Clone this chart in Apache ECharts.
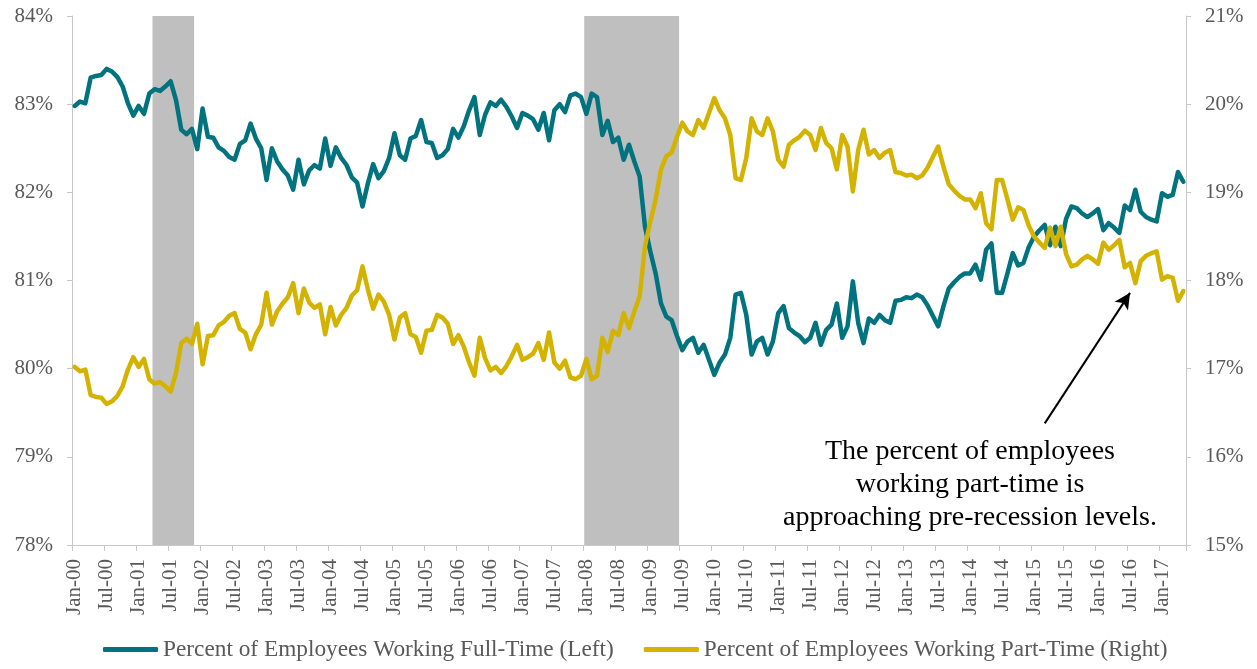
<!DOCTYPE html>
<html>
<head>
<meta charset="utf-8">
<script src="https://cdn.jsdelivr.net/npm/echarts@6/dist/echarts.min.js"></script>
<style>
  html, body { margin: 0; padding: 0; background: #fff; }
  #chart { width: 1257px; height: 669px; }
</style>
</head>
<body>
<div id="chart"></div>
<script>
// Monthly categories Jan-00 .. May-17
const monthNames = ['Jan','Feb','Mar','Apr','May','Jun','Jul','Aug','Sep','Oct','Nov','Dec'];
const firstYear = 2000, lastYear = 2017, lastMonth = 4; // May-17
const months = [];
for (let y = firstYear; y <= lastYear; y++) {
  for (let m = 0; m < 12; m++) {
    if (y === lastYear && m > lastMonth) break;
    months.push(monthNames[m] + '-' + String(y % 100).padStart(2, '0'));
  }
}

// Percent of employees working full-time (left axis)
const fullTime = [
  82.98, 83.03, 83.01, 83.30, 83.32, 83.33, 83.40, 83.37, 83.31, 83.20,
  83.01, 82.87, 82.98, 82.89, 83.12, 83.17, 83.15, 83.20, 83.26, 83.05,
  82.71, 82.66, 82.72, 82.49, 82.95, 82.63, 82.62, 82.51, 82.47, 82.40,
  82.37, 82.55, 82.59, 82.78, 82.61, 82.50, 82.14, 82.50, 82.35, 82.26,
  82.19, 82.03, 82.37, 82.09, 82.25, 82.31, 82.27, 82.61, 82.30, 82.51,
  82.39, 82.31, 82.17, 82.11, 81.84, 82.10, 82.32, 82.16, 82.24, 82.39,
  82.67, 82.42, 82.37, 82.61, 82.64, 82.82, 82.57, 82.56, 82.39, 82.42,
  82.49, 82.72, 82.62, 82.75, 82.93, 83.08, 82.65, 82.88, 83.02, 82.98,
  83.05, 82.97, 82.86, 82.73, 82.90, 82.87, 82.83, 82.71, 82.90, 82.59,
  82.93, 83.00, 82.91, 83.10, 83.12, 83.08, 82.89, 83.12, 83.08, 82.65,
  82.81, 82.57, 82.62, 82.37, 82.54, 82.35, 82.18, 81.61, 81.33, 81.08,
  80.74, 80.59, 80.55, 80.37, 80.21, 80.31, 80.35, 80.18, 80.27, 80.10,
  79.93, 80.07, 80.16, 80.35, 80.84, 80.86, 80.61, 80.16, 80.31, 80.35,
  80.16, 80.31, 80.63, 80.71, 80.46, 80.41, 80.37, 80.30, 80.35, 80.52,
  80.27, 80.44, 80.50, 80.74, 80.35, 80.48, 80.99, 80.52, 80.29, 80.57,
  80.52, 80.61, 80.55, 80.52, 80.77, 80.78, 80.81, 80.80, 80.84, 80.81,
  80.72, 80.60, 80.48, 80.71, 80.91, 80.98, 81.04, 81.08, 81.08, 81.18,
  81.01, 81.35, 81.42, 80.86, 80.86, 81.08, 81.31, 81.17, 81.20, 81.38,
  81.50, 81.57, 81.63, 81.40, 81.61, 81.39, 81.70, 81.84, 81.82, 81.76,
  81.72, 81.76, 81.81, 81.57, 81.65, 81.60, 81.54, 81.85, 81.80, 82.03,
  81.78, 81.72, 81.69, 81.67, 81.99, 81.95, 81.97, 82.23, 82.12
];

// Percent of employees working part-time (right axis)
const partTime = [
  17.02, 16.97, 16.99, 16.70, 16.68, 16.67, 16.60, 16.63, 16.69, 16.80,
  16.99, 17.13, 17.02, 17.11, 16.88, 16.83, 16.85, 16.80, 16.74, 16.95,
  17.29, 17.34, 17.28, 17.51, 17.05, 17.37, 17.38, 17.49, 17.53, 17.60,
  17.63, 17.45, 17.41, 17.22, 17.39, 17.50, 17.86, 17.50, 17.65, 17.74,
  17.81, 17.97, 17.63, 17.91, 17.75, 17.69, 17.73, 17.39, 17.70, 17.49,
  17.61, 17.69, 17.83, 17.89, 18.16, 17.90, 17.68, 17.84, 17.76, 17.61,
  17.33, 17.58, 17.63, 17.39, 17.36, 17.18, 17.43, 17.44, 17.61, 17.58,
  17.51, 17.28, 17.38, 17.25, 17.07, 16.92, 17.35, 17.12, 16.98, 17.02,
  16.95, 17.03, 17.14, 17.27, 17.10, 17.13, 17.17, 17.29, 17.10, 17.41,
  17.07, 17.00, 17.09, 16.90, 16.88, 16.92, 17.11, 16.88, 16.92, 17.35,
  17.19, 17.43, 17.38, 17.63, 17.46, 17.65, 17.82, 18.39, 18.67, 18.92,
  19.26, 19.41, 19.45, 19.63, 19.79, 19.69, 19.65, 19.82, 19.73, 19.90,
  20.07, 19.93, 19.84, 19.65, 19.16, 19.14, 19.39, 19.84, 19.69, 19.65,
  19.84, 19.69, 19.37, 19.29, 19.54, 19.59, 19.63, 19.70, 19.65, 19.48,
  19.73, 19.56, 19.50, 19.26, 19.65, 19.52, 19.01, 19.48, 19.71, 19.43,
  19.48, 19.39, 19.45, 19.48, 19.23, 19.22, 19.19, 19.20, 19.16, 19.19,
  19.28, 19.40, 19.52, 19.29, 19.09, 19.02, 18.96, 18.92, 18.92, 18.82,
  18.99, 18.65, 18.58, 19.14, 19.14, 18.92, 18.69, 18.83, 18.80, 18.62,
  18.50, 18.43, 18.37, 18.60, 18.39, 18.61, 18.30, 18.16, 18.18, 18.24,
  18.28, 18.24, 18.19, 18.43, 18.35, 18.40, 18.46, 18.15, 18.20, 17.97,
  18.22, 18.28, 18.31, 18.33, 18.01, 18.05, 18.03, 17.77, 17.88
];

// Recession periods (shaded), first and last month
const recessions = [['Apr-01', 'Nov-01'], ['Jan-08', 'Jun-09']];

const leftTicks = { min: 78, max: 84, step: 1 };
const rightTicks = { min: 15, max: 21, step: 1 };

const annotationText = ['The percent of employees', 'working part-time is', 'approaching pre-recession levels.'];
// Arrow from the note towards the part-time line (month, left-axis value)
const arrowFrom = ['Mar-15', 79.38];
const arrowTo = ['Jul-16', 80.86];

const FONT = '"Liberation Serif", "DejaVu Serif", serif';
const TEAL = '#00737f';
const GOLD = '#d4b300';
const AXIS_GREY = '#c8c8c8';
const LABEL_GREY = '#595959';

const recessionSpans = recessions.map(([a, b]) => [months.indexOf(a), months.indexOf(b)]);

const chart = echarts.init(document.getElementById('chart'), null, { renderer: 'canvas' });

const valueAxis = (t, pos) => ({
  type: 'value',
  position: pos,
  min: t.min, max: t.max, interval: t.step,
  axisLine: { show: true, lineStyle: { color: AXIS_GREY, width: 1 } },
  axisTick: { show: true, inside: false, length: 5, lineStyle: { color: AXIS_GREY } },
  splitLine: { show: false },
  axisLabel: {
    formatter: '{value}%', color: LABEL_GREY, fontFamily: FONT, fontSize: 21, margin: 19
  }
});

chart.setOption({
  backgroundColor: '#ffffff',
  animation: false,
  textStyle: { fontFamily: FONT },
  grid: { left: 72, right: 71, top: 16, bottom: 124, containLabel: false },
  xAxis: {
    type: 'category',
    data: months,
    boundaryGap: true,
    axisLine: { show: true, lineStyle: { color: AXIS_GREY, width: 1 } },
    axisTick: { show: true, interval: 5, length: 6, lineStyle: { color: AXIS_GREY } },
    axisLabel: {
      interval: 5, rotate: 90, color: LABEL_GREY, fontFamily: FONT, fontSize: 21, margin: 14
    },
    splitLine: { show: false }
  },
  yAxis: [
    valueAxis(leftTicks, 'left'),
    valueAxis(rightTicks, 'right'),
    { type: 'value', min: 0, max: 1, show: false }
  ],
  legend: {
    data: ['Percent of Employees Working Full-Time (Left)', 'Percent of Employees Working Part-Time (Right)'],
    bottom: 3,
    left: 98,
    icon: 'roundRect',
    itemWidth: 55,
    itemHeight: 5,
    itemGap: 30,
    textStyle: { color: LABEL_GREY, fontFamily: FONT, fontSize: 23.3 }
  },
  series: [
    {
      name: 'Recession',
      type: 'custom',
      yAxisIndex: 2,
      data: recessionSpans,
      encode: { x: [0, 1] },
      silent: true,
      z: 1,
      renderItem: (params, api) => {
        const cat = api.size([1, 0])[0];
        const x0 = api.coord([api.value(0), 0])[0] - 0.4 * cat;
        const x1 = api.coord([api.value(1), 0])[0] + 0.4 * cat;
        const cs = params.coordSys;
        return {
          type: 'rect',
          shape: { x: x0, y: cs.y, width: x1 - x0, height: cs.height },
          style: { fill: '#bfbfbf' }
        };
      }
    },
    {
      name: 'Percent of Employees Working Full-Time (Left)',
      type: 'line',
      yAxisIndex: 0,
      data: fullTime,
      showSymbol: false,
      z: 3,
      itemStyle: { color: TEAL },
      lineStyle: { color: TEAL, width: 4.5, join: 'round', cap: 'round' },
      markLine: {
        silent: true,
        symbol: ['none', 'arrow'],
        symbolSize: [12, 16],
        label: { show: false },
        lineStyle: { color: '#000', width: 2, type: 'solid' },
        data: [[
          { coord: arrowFrom },
          { coord: arrowTo }
        ]]
      }
    },
    {
      name: 'Percent of Employees Working Part-Time (Right)',
      type: 'line',
      yAxisIndex: 1,
      data: partTime,
      showSymbol: false,
      z: 3,
      itemStyle: { color: GOLD },
      lineStyle: { color: GOLD, width: 4.5, join: 'round', cap: 'round' }
    }
  ],
  graphic: [{
    type: 'text',
    x: 970,
    y: 435,
    style: {
      text: annotationText.join('\n'),
      textAlign: 'center',
      fill: '#000',
      fontFamily: FONT,
      fontSize: 28,
      lineHeight: 33
    }
  }]
});
</script>
</body>
</html>
